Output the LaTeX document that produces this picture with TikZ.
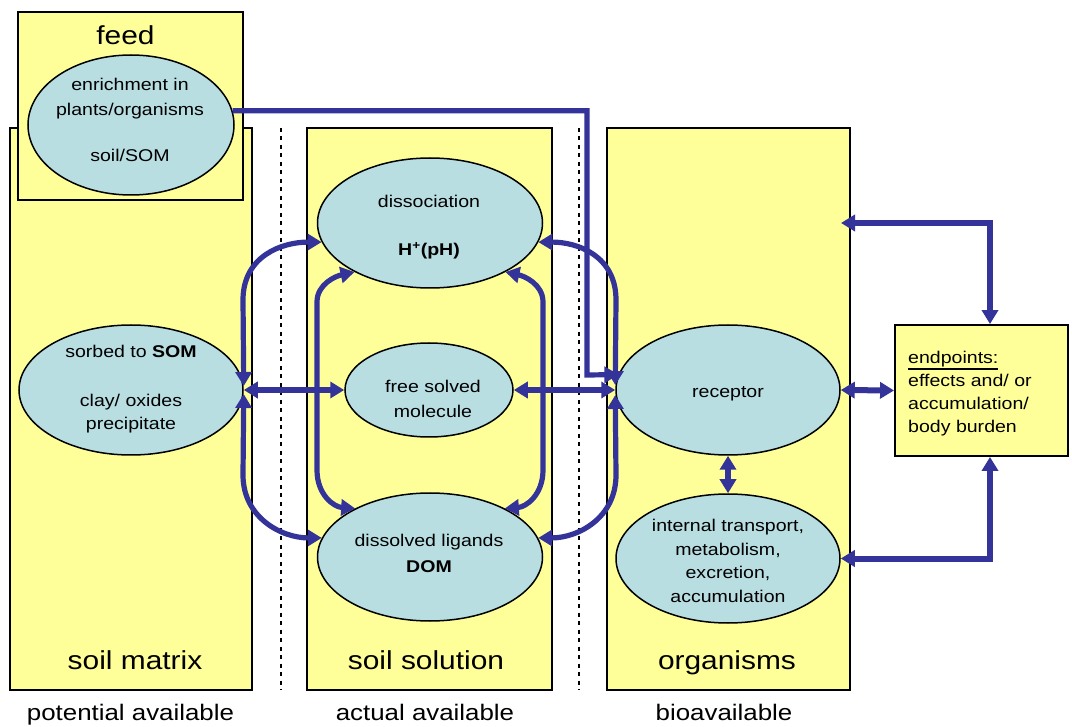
\documentclass[tikz,border=0pt]{standalone}
\usepackage{fontspec}
\setmainfont{Liberation Sans}[FakeStretch=1.15]
\usetikzlibrary{arrows.meta,shapes.geometric}

\definecolor{boxyellow}{HTML}{FFFF99}
\definecolor{poolblue}{HTML}{B8DEE2}
\definecolor{flowblue}{HTML}{333399}

% heavy underline for the endpoints heading
\newcommand{\heavyul}[1]{\vtop{\hbox{#1}\kern1.2pt\hrule height 2pt}}

\begin{document}
\begin{tikzpicture}[x=1pt,y=-1pt,
  zone/.style={draw=black, line width=1.9pt, fill=boxyellow, rectangle, inner sep=0},
  pool/.style={ellipse, draw=black, line width=1.5pt, fill=poolblue, inner sep=0},
  ptext/.style={font=\fontsize{17}{24}\selectfont, align=center, inner sep=0, anchor=north},
  ztext/.style={font=\fontsize{26}{30}\selectfont, inner sep=0, anchor=base},
  avail/.style={font=\fontsize{22.5}{26}\selectfont, inner sep=0, anchor=base},
  divider/.style={line width=2.4pt, dash pattern=on 4pt off 4.5pt},
  flowarrow/.style={draw=flowblue, line width=5.2pt, -{Triangle[length=14pt,width=16pt]}},
  flowpair/.style={draw=flowblue, line width=5.2pt, {Triangle[length=14pt,width=16pt]}-{Triangle[length=14pt,width=16pt]}},
  widepair/.style={flowpair, line width=6pt}
]
\useasboundingbox (0,0) rectangle (1072,727);
\fill[white] (0,0) rectangle (1072,727);

% compartments
\node[zone, minimum width=242pt, minimum height=562pt] (matrix) at (131,409) {};
\node[zone, minimum width=225pt, minimum height=188pt] (feedbox) at (130.5,106) {};
\node[zone, minimum width=245pt, minimum height=562pt] (solution) at (429.5,409) {};
\node[zone, minimum width=243pt, minimum height=562pt] (organisms) at (728.5,409) {};
\node[zone, minimum width=173pt, minimum height=131pt] (endpoints) at (981.5,390.5) {};

% availability borders
\draw[divider] (281,128) -- (281,690);
\draw[divider] (579,128) -- (579,690);

% pools
\node[pool, minimum width=206pt, minimum height=140pt] (feedell) at (131,125) {};
\node[pool, minimum width=224pt, minimum height=130pt] (sorbed) at (131,390) {};
\node[pool, minimum width=225pt, minimum height=130pt] (dissoc) at (430,223) {};
\node[pool, minimum width=168pt, minimum height=94pt] (free) at (429,390) {};
\node[pool, minimum width=225pt, minimum height=128pt] (dom) at (430,557) {};
\node[pool, minimum width=224pt, minimum height=130pt] (receptor) at (728,390) {};
\node[pool, minimum width=224pt, minimum height=129pt] (internal) at (728,558.5) {};

% texts
\node[ztext] (feedlabel) at (125.5,45) {feed};
\node[ptext, font=\fontsize{17}{25}\selectfont] (feedtext) at (130,77.8) {enrichment in\\plants/organisms\\[21pt]soil/SOM};
\node[ptext, font=\fontsize{17}{23}\selectfont] (sorbedtext) at (131,344.8) {sorbed to \textbf{SOM}\\[26pt]clay/ oxides\\precipitate};
\node[ptext] (dissoctext) at (429,194.8) {dissociation\\[24pt]\textbf{H\textsuperscript{+}(pH)}};
\node[ptext, font=\fontsize{17}{25}\selectfont] (freetext) at (433,379.8) {free solved\\molecule};
\node[ptext, font=\fontsize{17}{26}\selectfont] (domtext) at (429,533.8) {dissolved ligands\\\textbf{DOM}};
\node[ptext, anchor=base] (receptortext) at (728,398) {receptor};
\node[ptext, font=\fontsize{17}{23.7}\selectfont] (internaltext) at (728,518.8) {internal transport,\\metabolism,\\excretion,\\accumulation};
\node[ptext, font=\fontsize{17}{23}\selectfont, anchor=north west, align=left] (endtext) at (908,350.8) {\heavyul{endpoints:}\\effects and/ or\\accumulation/\\body burden};

\node[ztext] (matrixlabel) at (135,669) {soil matrix};
\node[ztext] (solutionlabel) at (426,669) {soil solution};
\node[ztext] (organismslabel) at (727,669) {organisms};
\node[avail] (potential) at (130.5,720) {potential available};
\node[avail] (actual) at (425,720) {actual available};
\node[avail] (bio) at (724,720) {bioavailable};

% fluxes
\draw[flowarrow] (feedell.8) -| (587,375) -- (receptor.172);
\draw[flowpair] (sorbed.east) -- (free.west);
\draw[flowpair] (free.east) -- (receptor.west);
\draw[flowpair] ([yshift=4pt]sorbed.east) -- (243,300) .. controls (243,256) and (282,242) .. (dissoc.190);
\draw[flowpair] ([yshift=-4pt]sorbed.east) -- (243,475) .. controls (243,518) and (282,538) .. (dom.170);
\draw[flowpair] (dissoc.213) .. controls (336,276) and (317,284) .. (317,302) -- (317,470) .. controls (317,495) and (334,507) .. (dom.147);
\draw[flowpair] (dissoc.327) .. controls (524,276) and (543,284) .. (543,302) -- (543,470) .. controls (543,495) and (526,507) .. (dom.33);
\draw[flowpair] ([yshift=5pt]receptor.west) -- (616,300) .. controls (616,256) and (578,242) .. (dissoc.350);
\draw[flowpair] ([yshift=-5pt]receptor.west) -- (616,475) .. controls (616,518) and (578,538) .. (dom.10);
\draw[flowpair] (receptor.south) -- (internal.north);
\coordinate (orgport) at (841,223);
\draw[widepair] (orgport) -| ([xshift=8.5pt]endpoints.north);
\draw[widepair] (receptor.east) -- (endpoints.west);
\draw[widepair] ([xshift=8.5pt]endpoints.south) |- (internal.east);
\end{tikzpicture}
\end{document}
